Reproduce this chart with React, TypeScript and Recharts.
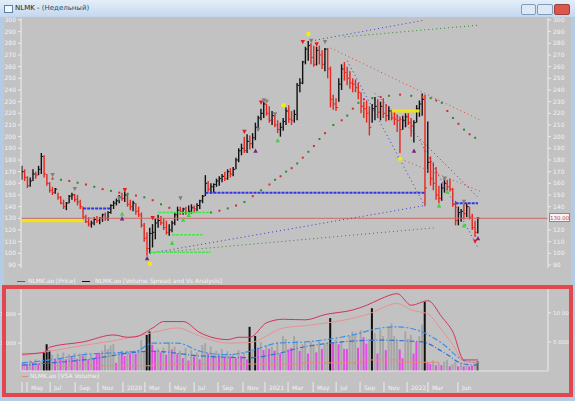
import React from "react"
import { ComposedChart, Bar, Line, Scatter, XAxis, YAxis, ReferenceLine, Cell } from "recharts"

// NLMK weekly bars, spring 2019 .. June 2022 (one entry per week)
const lows = [
  163, 162, 156, 157, 162, 164, 167, 168, 165, 158,
  152, 150, 151, 146, 142, 138, 137, 143, 146, 144,
  141, 138, 129, 126, 123, 122, 124, 126, 125, 127,
  128, 128, 134, 138, 141, 143, 145, 144, 140, 137,
  136, 133, 131, 122, 110, 98, 100, 105, 112, 122,
  124, 120, 116, 115, 118, 124, 128, 133, 133, 133,
  134, 134, 135, 136, 138, 143, 149, 153, 151, 152,
  157, 158, 161, 162, 163, 165, 166, 172, 178, 184,
  186, 186, 189, 190, 197, 205, 214, 216, 218, 212,
  210, 208, 203, 200, 205, 210, 212, 210, 212, 214,
  238, 245, 262, 265, 262, 260, 261, 262, 258, 256,
  250, 225, 223, 222, 230, 240, 248, 244, 241, 238,
  238, 232, 220, 216, 212, 201, 212, 214, 216, 214,
  216, 213, 214, 214, 210, 204, 186, 206, 208, 210,
  200, 195, 212, 217, 218, 141, 169, 158, 154, 146,
  143, 145, 152, 154, 153, 140, 124, 124, 127, 129,
  131, 129, 120, 114, 117,
]
const highs = [
  175, 172, 166, 165, 172, 170, 175, 186, 184, 168,
  161, 157, 156, 152, 149, 146, 144, 150, 152, 151,
  150, 146, 140, 133, 131, 128, 131, 132, 131, 134,
  135, 136, 142, 145, 147, 150, 152, 153, 150, 146,
  145, 143, 140, 135, 126, 118, 122, 125, 130, 133,
  132, 130, 128, 125, 128, 135, 140, 140, 139, 140,
  141, 142, 141, 143, 146, 150, 167, 162, 160, 160,
  164, 166, 168, 170, 172, 173, 174, 182, 190, 194,
  200, 202, 201, 203, 212, 218, 224, 230, 228, 226,
  222, 220, 214, 212, 216, 225, 227, 222, 223, 246,
  250, 265, 277, 282, 280, 278, 277, 278, 274, 276,
  276, 260, 236, 233, 250, 262, 264, 260, 256, 250,
  249, 246, 238, 230, 231, 226, 228, 234, 232, 230,
  233, 228, 226, 223, 222, 219, 217, 218, 220, 220,
  216, 214, 227, 231, 237, 236, 213, 183, 178, 174,
  158, 160, 164, 163, 164, 156, 145, 140, 138, 142,
  143, 140, 134, 128, 131,
]
const closes = [
  170, 165, 158, 162, 168, 167, 172, 183, 168, 160,
  154, 152, 155, 148, 143, 140, 143, 149, 150, 146,
  144, 140, 131, 127, 125, 126, 129, 128, 130, 133,
  130, 135, 141, 143, 145, 148, 147, 150, 142, 140,
  143, 136, 133, 124, 113, 104, 117, 118, 126, 128,
  126, 122, 118, 120, 126, 133, 137, 136, 138, 135,
  136, 139, 138, 141, 145, 149, 160, 155, 157, 159,
  162, 164, 166, 164, 170, 168, 172, 180, 188, 190,
  188, 196, 194, 199, 208, 216, 220, 228, 220, 214,
  218, 210, 206, 208, 213, 222, 215, 214, 219, 244,
  246, 264, 275, 278, 268, 262, 274, 270, 262, 275,
  258, 232, 228, 225, 245, 258, 255, 250, 246, 245,
  242, 238, 226, 224, 220, 208, 224, 226, 221, 226,
  220, 218, 222, 216, 215, 214, 206, 214, 217, 212,
  209, 212, 224, 228, 232, 156, 178, 164, 160, 150,
  147, 156, 160, 157, 155, 142, 128, 135, 136, 134,
  140, 131, 122, 118, 130,
]

// weekly volume, thousands of lots; m = magenta, g = gray, k = black, d = dark gray
const volumes = [
  1.4, 1.6, 1.2, 1.8, 1.5, 2.0, 1.3, 1.7, 3.1, 4.6,
  3.5, 2.8, 2.0, 3.0, 2.2, 3.2, 2.0, 2.9, 2.4, 3.1,
  2.1, 3.0, 2.6, 3.2, 2.0, 2.8, 2.2, 3.0, 3.1, 3.5,
  4.5, 3.8, 4.4, 4.6, 1.4, 3.2, 3.4, 2.6, 3.5, 3.0,
  3.3, 3.0, 3.6, 5.3, 3.5, 6.2, 6.8, 4.5, 3.5, 3.8,
  3.2, 4.0, 2.8, 5.0, 3.7, 4.2, 3.0, 3.5, 2.2, 4.0,
  1.8, 3.6, 2.5, 3.2, 2.0, 4.5, 4.8, 3.0, 4.2, 2.7,
  3.5, 2.7, 3.8, 2.4, 3.4, 2.5, 3.0, 2.2, 3.6, 2.6,
  3.2, 2.0, 7.6, 3.8, 6.0, 4.0, 5.0, 3.6, 4.4, 3.8,
  4.2, 3.5, 5.0, 3.0, 6.0, 5.5, 3.7, 4.0, 6.0, 5.2,
  3.5, 4.6, 4.8, 3.0, 5.0, 4.4, 3.2, 5.2, 3.8, 4.6,
  5.0, 9.1, 4.8, 5.4, 4.6, 5.0, 3.8, 3.8, 6.0, 6.8,
  6.2, 4.0, 7.0, 5.8, 4.7, 5.5, 10.8, 6.5, 3.0, 7.2,
  6.0, 3.6, 7.5, 8.2, 6.0, 5.4, 3.7, 2.2, 6.8, 5.5,
  6.2, 3.0, 5.0, 6.0, 8.0, 11.9, 1.5, 1.2, 1.8, 1.0,
  1.4, 1.0, 1.6, 1.9, 0.8, 1.2, 1.6, 0.8, 1.4, 0.8,
  1.0, 0.8, 0.9, 1.2, 1.7,
]
const volumeKinds =
  "mgmgmgmgkk" + "kgmgmgmgmg" + "mgmgmgmmmg" + "ggggmgmmgm" + "gmgggkkmmg" +
  "mgmgmgmgmg" + "mgmgmggmgm" + "gmgmgmgmgm" + "gmkgkmgmgm" + "gmgmggmmgg" +
  "mggmggmgmg" + "gkmgmgmmgg" + "gmgmmgkgmg" + "gmggggmmgg" + "gmmggkmmgm" +
  "gmggmggmgm" + "gmmgd"

// volume bands (read at a few weeks)
const upperWeeks = [0, 8, 10, 22, 33, 38, 41, 47, 51, 58, 64, 74, 78, 82, 88, 94, 102, 109, 119, 124, 129, 135, 140, 146, 151, 155, 159, 164]
const upperVals = [2.9, 3.2, 4.1, 5.0, 6.2, 5.8, 5.9, 7.4, 8.5, 8.5, 6.6, 5.4, 5.8, 5.8, 8.3, 8.9, 8.8, 9.7, 10.5, 11.3, 12.4, 13.3, 11.3, 12.1, 9.3, 6.7, 1.9, 1.9]
const midWeeks = [0, 10, 22, 33, 47, 56, 64, 74, 82, 94, 102, 124, 135, 140, 146, 151, 155, 159, 164]
const midVals = [2.6, 3.4, 4.4, 5.2, 6.6, 7.4, 6.0, 4.8, 4.9, 7.4, 7.8, 9.7, 11.6, 10.5, 9.8, 7.0, 4.5, 1.6, 1.5]
const blueHiWeeks = [0, 10, 22, 41, 47, 56, 64, 74, 82, 92, 102, 119, 129, 135, 144, 151, 159, 164]
const blueHiVals = [1.4, 1.9, 2.8, 3.4, 4.8, 4.8, 3.4, 2.8, 3.4, 4.8, 5.0, 6.2, 7.4, 7.6, 6.7, 4.8, 1.8, 1.4]
const blueLoWeeks = [0, 22, 47, 64, 82, 92, 102, 129, 144, 151, 159, 164]
const blueLoVals = [1.0, 1.9, 3.4, 2.6, 2.3, 3.0, 4.2, 5.3, 5.0, 3.4, 1.2, 1.0]
const vsaWeeks = [11, 47, 101, 122, 136, 150]
const vsaVals = [0.9, 1.2, 1.4, 1.9, 1.5, 1.5]

// stop-and-reverse dots
const sarWeeks = [11, 14, 17, 20, 23, 26, 29, 32, 35, 38, 41, 44, 47, 50, 53,
  68, 71, 74, 77, 80, 83, 86, 89, 91, 93, 95, 97, 99, 101, 103, 105, 107, 109, 112, 115, 117, 119, 121, 123,
  126, 129, 132, 136, 140, 144, 147, 149, 151, 153, 155, 157, 159, 161, 163]
const sarVals = [164, 163, 162, 160.5, 159, 157, 155, 153.5, 152, 151, 149.5, 148, 145.5, 142, 139,
  135, 136.5, 138.5, 141, 144, 149, 154, 159, 163, 166, 170, 173, 177, 182, 187, 192, 198, 203, 210, 214, 218, 224, 229, 232,
  233, 234, 235, 236, 235, 234, 233, 231, 229, 222, 216, 211, 206, 202, 199]

// levels: [fromWeek, toWeek, price]
const yellowLevels = [[0, 22, 128], [133, 143, 222]]
const blueLevels = [[22, 32, 138.5], [66, 145, 152], [156, 164, 143]]
const greenLevels = [[49, 68, 135], [54, 65, 116], [46, 68, 101]]

// trend lines: [week1, price1, week2, price2]
const blueTrends = [[46, 100, 145, 141], [104, 282, 145, 300], [117, 265, 145, 140], [127, 237, 164, 148], [143, 197, 164, 105]]
const greenTrends = [[46, 100, 149, 122], [116, 285.5, 164, 295.5]]
const redTrends = [[111, 276, 165, 214], [135, 182, 165, 153]]

// signal markers
const markerWeeks = [11, 19, 35, 57, 85, 87, 88, 91, 104, 109, 152, 159,
  37, 47, 80, 86, 101, 106, 163,
  36, 54, 58, 60, 92, 150, 153, 159,
  36, 45, 84, 141, 164,
  46, 94, 103, 136]
const markerPrices = [167, 155, 147, 147, 206, 231, 230, 219, 282, 281, 164, 144,
  154, 130, 204, 229, 281, 279, 110,
  134, 109, 129, 133, 197, 141, 153, 124,
  130, 96, 188, 188, 113,
  91, 227, 288, 181]
const markerKinds = ["gd", "gd", "gd", "gd", "gd", "gd", "gd", "gd", "gd", "gd", "gd", "gd",
  "rd", "rd", "rd", "rd", "rd", "rd", "rd",
  "gu", "gu", "gu", "gu", "gu", "gu", "gu", "gu",
  "pu", "pu", "pu", "pu", "pu",
  "yc", "yc", "yc", "yc"]

const dateTickWeeks = [0, 1.8, 10.1, 19.1, 27.3, 36.3, 44.2, 53.2, 61.9, 70.5, 79.5, 87.4, 95.7, 104.7, 113, 121.6, 130.2, 138.5, 146, 156.8]
const dateTickLabels = ["", "May", "Jul", "Sep", "Nov", "2020", "Mar", "May", "Jul", "Sep", "Nov", "2021", "Mar", "May", "Jul", "Sep", "Nov", "2022", "Mar", "Jun"]

const priceTicks = Array.from({ length: 22 }, (_, k) => 90 + k * 10)
const rightPriceTicks = priceTicks.filter((t) => t !== 130)

const pick = (weeks: number[], vals: number[], i: number) => {
  const k = weeks.indexOf(i)
  return k >= 0 ? vals[k] : null
}

const rows = closes.map((c, i) => ({
  i,
  range: [lows[i], highs[i]],
  lo: lows[i],
  hi: highs[i],
  cl: c,
  up: i === 0 ? true : c >= closes[i - 1],
  vol: volumes[i],
  vk: volumeKinds[i],
  upper: pick(upperWeeks, upperVals, i),
  mid: pick(midWeeks, midVals, i),
  blueHi: pick(blueHiWeeks, blueHiVals, i),
  blueLo: pick(blueLoWeeks, blueLoVals, i),
  vsa: pick(vsaWeeks, vsaVals, i),
}))

const sarData = sarWeeks.map((w, k) => ({ i: w, p: sarVals[k], k }))
const markerData = markerWeeks.map((w, k) => ({ i: w, p: markerPrices[k], kind: markerKinds[k] }))

const X_DOMAIN = [-0.36, 189.2]
const FONT = "'DejaVu Sans', sans-serif"
const AXIS_TEXT = "#f3f3f3"
const BG = "#c2c2c2"
const volColors: Record<string, string> = { m: "#e44ae6", g: "#a6a6a6", k: "#101010", d: "#555555" }
const markerColors: Record<string, string> = { gd: "#808080", rd: "#e21f1f", gu: "#3fd43f", pu: "#7d1f86", yc: "#f4ea10" }

const PriceShape = (props: any) => {
  const { x, y, width, height, payload } = props
  if (x == null || y == null) return null
  const top = Math.min(y, y + height)
  const h = Math.abs(height)
  const cx = x + width / 2
  const cy = top + ((payload.hi - payload.cl) / (payload.hi - payload.lo || 1)) * h
  const color = payload.up ? "#111111" : "#e8261e"
  return (
    <g>
      <line x1={cx} x2={cx} y1={top} y2={top + h} stroke={color} strokeWidth={1.4} />
      <line x1={cx} x2={cx + 2} y1={cy} y2={cy} stroke={color} strokeWidth={1} />
    </g>
  )
}

const SarDot = (props: any) => {
  const { cx, cy, payload } = props
  return <rect x={cx - 1} y={cy - 1} width={2} height={2} fill={payload.k % 2 ? "#2f8a2f" : "#d23030"} />
}

const MarkerShape = (props: any) => {
  const { cx, cy, payload } = props
  const c = markerColors[payload.kind]
  const s = 2.2
  if (payload.kind === "yc") return <circle cx={cx} cy={cy} r={2.2} fill={c} />
  const d = payload.kind.endsWith("d")
    ? `M${cx - s},${cy - s} L${cx + s},${cy - s} L${cx},${cy + s} Z`
    : `M${cx},${cy - s} L${cx + s},${cy + s} L${cx - s},${cy + s} Z`
  return <path d={d} fill={c} />
}

const DateTick = (props: any) => {
  const { x, y, payload } = props
  const label = dateTickLabels[dateTickWeeks.indexOf(payload.value)] ?? ""
  return (
    <g>
      <line x1={x} x2={x} y1={y + 3} y2={y + 13} stroke="#ececec" strokeWidth={1} />
      <text x={x + 4} y={y + 11} fontSize={6} fill={AXIS_TEXT} fontFamily={FONT}>{label}</text>
    </g>
  )
}

// plain svg tick text, so that "10 000" stays on one line
const makeTick = (fmt: (v: number) => string, size: number) => (props: any) => {
  const { x, y, payload, textAnchor } = props
  return (
    <text x={x} y={y} dy={2} textAnchor={textAnchor} fontSize={size} fill={AXIS_TEXT} fontFamily={FONT}>
      {fmt(payload.value)}
    </text>
  )
}
const priceTick = makeTick((v) => String(v), 6)
const volTick = makeTick((v) => `${v} 000`, 5.5)

const axisProps = {
  tickSize: 3,
  axisLine: { stroke: "#eeeeee" },
  tickLine: { stroke: "#eeeeee" },
  allowDataOverflow: true,
  interval: 0 as const,
}

export default function App() {
  return (
    <div style={{ position: "absolute", left: 0, top: 0, width: 575, height: 401, overflow: "hidden", background: "#b5cbe4", fontFamily: FONT }}>
      {/* title bar */}
      <div style={{ position: "absolute", left: 0, top: 0, width: 575, height: 17, background: "linear-gradient(#e4eef9, #c4d7ed)" }} />
      <div style={{ position: "absolute", left: 4, top: 5, width: 7, height: 6, border: "1px solid #5a7fa8", background: "#f4f8fc" }} />
      <div style={{ position: "absolute", left: 15, top: 4, fontSize: 7, color: "#1b1b1b", whiteSpace: "nowrap" }}>
        NLMK - <span style={{ color: "#24506e" }}>(Недельный)</span>
      </div>
      <div style={{ position: "absolute", left: 521, top: 4, width: 13, height: 9, border: "1px solid #7d9cc0", background: "#dde8f4", borderRadius: 2 }} />
      <div style={{ position: "absolute", left: 537, top: 4, width: 14, height: 9, border: "1px solid #7d9cc0", background: "#dde8f4", borderRadius: 2 }} />
      <div style={{ position: "absolute", left: 554, top: 4, width: 14, height: 9, border: "1px solid #a04040", background: "#d9584d", borderRadius: 2 }} />

      {/* chart area background */}
      <div style={{ position: "absolute", left: 4, top: 17, width: 567, height: 380, background: BG }} />

      {/* price chart */}
      <div style={{ position: "absolute", left: 0, top: 17 }}>
        <ComposedChart width={575} height={255} data={rows} margin={{ top: 1, right: 10, bottom: 4, left: 0 }}>
          <XAxis dataKey="i" type="number" domain={X_DOMAIN} hide allowDataOverflow />
          <YAxis yAxisId="l" orientation="left" width={21} domain={[87.4, 301.7]} ticks={priceTicks} tick={priceTick} {...axisProps} />
          <YAxis yAxisId="r" orientation="right" width={17} domain={[87.4, 301.7]} ticks={rightPriceTicks} tick={priceTick} {...axisProps} />
          <ReferenceLine yAxisId="l" y={130} stroke="#c96a6a" strokeWidth={1} />
          {blueTrends.map((t, k) => (
            <ReferenceLine key={"bt" + k} yAxisId="l" segment={[{ x: t[0], y: t[1] }, { x: t[2], y: t[3] }]} stroke="#3a3ad6" strokeDasharray="1 3" ifOverflow="visible" />
          ))}
          {greenTrends.map((t, k) => (
            <ReferenceLine key={"gt" + k} yAxisId="l" segment={[{ x: t[0], y: t[1] }, { x: t[2], y: t[3] }]} stroke="#2e8a2e" strokeDasharray="1 3" ifOverflow="visible" />
          ))}
          {redTrends.map((t, k) => (
            <ReferenceLine key={"rt" + k} yAxisId="l" segment={[{ x: t[0], y: t[1] }, { x: t[2], y: t[3] }]} stroke="#d04a4a" strokeDasharray="1 3" ifOverflow="visible" />
          ))}
          {greenLevels.map((t, k) => (
            <ReferenceLine key={"gl" + k} yAxisId="l" segment={[{ x: t[0], y: t[2] }, { x: t[1], y: t[2] }]} stroke="#4fe04f" strokeWidth={1.5} strokeDasharray="3 1" />
          ))}
          {blueLevels.map((t, k) => (
            <ReferenceLine key={"bl" + k} yAxisId="l" segment={[{ x: t[0], y: t[2] }, { x: t[1], y: t[2] }]} stroke="#3434e4" strokeWidth={2} strokeDasharray="3 1" />
          ))}
          {yellowLevels.map((t, k) => (
            <ReferenceLine key={"yl" + k} yAxisId="l" segment={[{ x: t[0], y: t[2] }, { x: t[1], y: t[2] }]} stroke="#f2e40c" strokeWidth={3} />
          ))}
          <Scatter yAxisId="l" data={sarData} dataKey="p" shape={SarDot} isAnimationActive={false} />
          <Bar yAxisId="l" dataKey="range" barSize={3} shape={PriceShape} isAnimationActive={false} />
          <Scatter yAxisId="l" data={markerData} dataKey="p" shape={MarkerShape} isAnimationActive={false} />
        </ComposedChart>
      </div>

      {/* last price tag */}
      <div style={{ position: "absolute", left: 549, top: 213, width: 21, height: 9, border: "1px solid #d56a6a", background: "#f6f6f6", color: "#cc3b3b", fontSize: 5.5, lineHeight: "9px", textAlign: "center", boxSizing: "border-box" }}>130.00</div>

      {/* legend row */}
      <div style={{ position: "absolute", left: 17, top: 281, width: 8, height: 1, background: "#e02a2a" }} />
      <div style={{ position: "absolute", left: 28, top: 277, fontSize: 6, color: AXIS_TEXT, whiteSpace: "nowrap" }}>NLMK.ao [Price]</div>
      <div style={{ position: "absolute", left: 82, top: 281, width: 8, height: 1, background: "#111111" }} />
      <div style={{ position: "absolute", left: 95, top: 277, fontSize: 6, color: AXIS_TEXT, whiteSpace: "nowrap" }}>NLMK.ao [Volume Spread and Vs Analysis]</div>

      {/* volume chart */}
      <div style={{ position: "absolute", left: 0, top: 286 }}>
        <ComposedChart width={575} height={107} data={rows} margin={{ top: 3, right: 10, bottom: 0, left: 0 }}>
          <XAxis dataKey="i" type="number" domain={X_DOMAIN} ticks={dateTickWeeks} tick={DateTick} tickLine={false} axisLine={{ stroke: "#e6e6e6" }} height={22} interval={0} allowDataOverflow />
          <YAxis yAxisId="l" orientation="left" width={21} domain={[-0.931, 4.724]} ticks={[1, 3]} tick={volTick} {...axisProps} />
          <YAxis yAxisId="r" orientation="right" width={17} domain={[0, 14.1]} ticks={[5, 10]} tick={volTick} {...axisProps} />
          <Bar yAxisId="r" dataKey="vol" barSize={2} isAnimationActive={false}>
            {rows.map((r) => (
              <Cell key={r.i} fill={volColors[r.vk]} />
            ))}
          </Bar>
          <Line yAxisId="r" dataKey="vsa" type="stepAfter" connectNulls stroke="#e58a80" strokeWidth={1} dot={false} isAnimationActive={false} />
          <Line yAxisId="r" dataKey="blueLo" type="monotone" connectNulls stroke="#2f6fd4" strokeWidth={1.2} strokeDasharray="5 2 1 2" dot={false} isAnimationActive={false} />
          <Line yAxisId="r" dataKey="blueHi" type="monotone" connectNulls stroke="#3b8fe8" strokeWidth={1.2} strokeDasharray="6 2 2 2" dot={false} isAnimationActive={false} />
          <Line yAxisId="r" dataKey="mid" type="monotone" connectNulls stroke="#e8938e" strokeWidth={1} dot={false} isAnimationActive={false} />
          <Line yAxisId="r" dataKey="upper" type="monotone" connectNulls stroke="#d2335f" strokeWidth={1} dot={false} isAnimationActive={false} />
        </ComposedChart>
      </div>

      {/* second legend */}
      <div style={{ position: "absolute", left: 22, top: 376, width: 6, height: 1, background: "#e58a80" }} />
      <div style={{ position: "absolute", left: 30, top: 372, fontSize: 6, color: AXIS_TEXT, whiteSpace: "nowrap" }}>NLMK.ao [VSA Volume]</div>

      {/* highlight frame */}
      <div style={{ position: "absolute", left: 2, top: 285, width: 571, height: 112, border: "4px solid #e4474b", boxSizing: "border-box", pointerEvents: "none" }} />
    </div>
  )
}
